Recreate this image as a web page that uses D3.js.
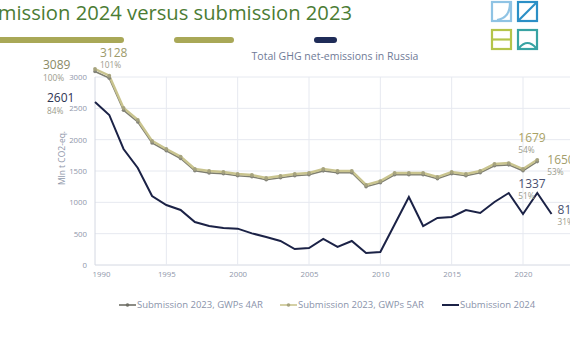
<!DOCTYPE html>
<html>
<head>
<meta charset="utf-8">
<script src="https://cdn.jsdelivr.net/npm/d3@7"></script>
<style>
  body { margin: 0; background: #fff; }
  svg { display: block; font-family: "Open Sans", "Noto Sans", sans-serif; }
</style>
</head>
<body>
<div id="chart"></div>
<script>
// years shown on the chart
var years = d3.range(1990, 2023);

// Submission 2024 (1990-2022)
var sub2024 = [2601, 2394, 1851, 1548, 1101, 957, 878, 686, 622, 590,
  580, 505, 447, 383, 255, 271, 415, 290, 383, 191,
  207, 646, 1085, 622, 750, 766, 878, 830, 1005, 1149,
  814, 1149, 814];

// Submission 2023, GWPs 5AR (1990-2021)
var sub2023_5ar = [3128, 3020, 2505, 2315, 1980, 1852, 1730, 1532, 1500, 1484,
  1452, 1436, 1388, 1420, 1452, 1468, 1532, 1500, 1500, 1277,
  1340, 1468, 1468, 1468, 1404, 1484, 1452, 1500, 1612, 1627,
  1532, 1679];

// Submission 2023, GWPs 4AR (1990-2021)
var sub2023_4ar = [3089, 2982, 2470, 2282, 1948, 1822, 1700, 1505, 1470, 1455,
  1424, 1408, 1360, 1392, 1424, 1440, 1502, 1472, 1472, 1250,
  1312, 1440, 1440, 1440, 1376, 1456, 1424, 1472, 1583, 1598,
  1504, 1650];

var yTicks = [0, 500, 1000, 1500, 2000, 2500, 3000];
var xTicks = [1990, 1995, 2000, 2005, 2010, 2015, 2020];

var legendNames = ["Submission 2023, GWPs 4AR", "Submission 2023, GWPs 5AR", "Submission 2024"];

// value labels: [series, year, value text, percent text]
var callouts = [
  ["4ar", 1990, "3089", "100%"],
  ["5ar", 1990, "3128", "101%"],
  ["2024", 1990, "2601", "84%"],
  ["5ar", 2021, "1679", "54%"],
  ["4ar", 2021, "1650", "53%"],
  ["2024", 2021, "1337", "51%"],
  ["2024", 2022, "814", "31%"]
];

var W = 570, H = 362;
var svg = d3.select("#chart").append("svg")
  .attr("width", W)
  .attr("height", H);

// slide title (cut off on the left like the slide)
svg.append("text")
  .attr("x", 352).attr("y", 20)
  .attr("text-anchor", "end")
  .attr("fill", "#4b7c34")
  .style("font-size", "20.2px")
  .text("Submission 2024 versus submission 2023");

// decorative bars under the title
svg.append("rect").attr("x", -10).attr("y", 37).attr("width", 134).attr("height", 6).attr("rx", 3).attr("fill", "#a9a857");
svg.append("rect").attr("x", 174).attr("y", 37).attr("width", 60).attr("height", 6).attr("rx", 3).attr("fill", "#a9a857");
svg.append("rect").attr("x", 314).attr("y", 37).attr("width", 23).attr("height", 6).attr("rx", 3).attr("fill", "#1f2c58");

// logo
var logo = svg.append("g").attr("fill", "none").attr("stroke-width", 2.2);
logo.append("rect").attr("x", 492).attr("y", 2).attr("width", 19).attr("height", 19).attr("stroke", "#8fc3e4");
logo.append("path").attr("d", "M497,20 Q510,18 510,3").attr("stroke", "#8fc3e4");
logo.append("rect").attr("x", 518).attr("y", 2).attr("width", 19).attr("height", 19).attr("stroke", "#2b8fc6");
logo.append("path").attr("d", "M519,20 L536,3").attr("stroke", "#2b8fc6");
logo.append("rect").attr("x", 492).attr("y", 30).attr("width", 19).attr("height", 19).attr("stroke", "#b4c44a");
logo.append("path").attr("d", "M492,39.5 L511,39.5").attr("stroke", "#b4c44a");
logo.append("rect").attr("x", 518).attr("y", 30).attr("width", 19).attr("height", 19).attr("stroke", "#38a3a3");
logo.append("path").attr("d", "M519,48 Q527.5,38 536,48").attr("stroke", "#38a3a3");

// chart title
svg.append("text")
  .attr("x", 335).attr("y", 60)
  .attr("text-anchor", "middle")
  .attr("fill", "#6f7b97")
  .style("font-size", "10.5px")
  .text("Total GHG net-emissions in Russia");

var x = d3.scaleLinear().domain([1990, 2020]).range([95, 523]);
var y = d3.scaleLinear().domain([0, 3000]).range([265, 77]);

// grid
svg.append("g").selectAll("line").data(yTicks).join("line")
  .attr("x1", x(1990)).attr("x2", W)
  .attr("y1", function(d) { return y(d); }).attr("y2", function(d) { return y(d); })
  .attr("stroke", function(d) { return d === 0 ? "#d4d8e2" : "#e6e9f0"; })
  .attr("stroke-width", 1);
svg.append("g").selectAll("line").data(xTicks).join("line")
  .attr("x1", function(d) { return x(d); }).attr("x2", function(d) { return x(d); })
  .attr("y1", y(0)).attr("y2", y(3000))
  .attr("stroke", function(d) { return d === 1990 ? "#d4d8e2" : "#e6e9f0"; })
  .attr("stroke-width", 1);

// axes
var yAxis = svg.append("g")
  .attr("transform", "translate(" + x(1990) + ",0)")
  .call(d3.axisLeft(y).tickValues(yTicks).tickFormat(d3.format("d")).tickSize(0).tickPadding(8));
var xAxis = svg.append("g")
  .attr("transform", "translate(0," + y(0) + ")")
  .call(d3.axisBottom(x).tickValues(xTicks).tickFormat(d3.format("d")).tickSize(0).tickPadding(6));
[yAxis, xAxis].forEach(function(a) {
  a.select(".domain").remove();
  a.selectAll("text").attr("fill", "#8f97aa").style("font-size", "7.8px")
    .style("font-family", "'Open Sans', sans-serif");
});
xAxis.selectAll("text").filter(function(d) { return d === 1990; }).attr("dx", 6);

svg.append("text")
  .attr("transform", "translate(65,158) rotate(-90)")
  .attr("text-anchor", "middle")
  .attr("fill", "#8f97aa")
  .style("font-size", "8.5px")
  .text("Mln t CO2-eq.");

var line = d3.line()
  .x(function(d) { return x(d[0]); })
  .y(function(d) { return y(d[1]); });

function pairs(vals) {
  return vals.map(function(v, i) { return [years[i], v]; });
}

// Submission 2023 4AR
svg.append("path").datum(pairs(sub2023_4ar))
  .attr("d", line).attr("fill", "none")
  .attr("stroke", "#7e7e70").attr("stroke-width", 1.6);
// Submission 2023 5AR
svg.append("path").datum(pairs(sub2023_5ar))
  .attr("d", line).attr("fill", "none")
  .attr("stroke", "#c9c48f").attr("stroke-width", 2.4);
svg.append("g").selectAll("circle").data(pairs(sub2023_4ar)).join("circle")
  .attr("cx", function(d) { return x(d[0]); }).attr("cy", function(d) { return y(d[1]); })
  .attr("r", 1.8).attr("fill", "#85857a");
svg.append("g").selectAll("circle").data(pairs(sub2023_5ar)).join("circle")
  .attr("cx", function(d) { return x(d[0]); }).attr("cy", function(d) { return y(d[1]); })
  .attr("r", 1.9).attr("fill", "#a6a37e");

// Submission 2024
svg.append("path").datum(pairs(sub2024))
  .attr("d", line).attr("fill", "none")
  .attr("stroke", "#1b2246").attr("stroke-width", 2);

// value call-outs
var seriesMap = { "4ar": sub2023_4ar, "5ar": sub2023_5ar, "2024": sub2024 };
var calloutPos = {
  "4ar1990": [-52, -2, "#8a8a66"],
  "5ar1990": [5, -12, "#9d9a6a"],
  "20241990": [-48, 0, "#2c3452"],
  "5ar2021": [-19, -18, "#a9a265"],
  "4ar2021": [10, 2, "#a39e6c"],
  "20242021": [-19, -5, "#485070"],
  "20242022": [6, 0, "#4a5270"]
};
callouts.forEach(function(c) {
  var vals = seriesMap[c[0]];
  var v = vals[years.indexOf(c[1])];
  var p = calloutPos[c[0] + c[1]];
  var gx = x(c[1]) + p[0], gy = y(v) + p[1];
  svg.append("text").attr("x", gx).attr("y", gy)
    .attr("fill", p[2]).style("font-size", "12px").text(c[2]);
  svg.append("text").attr("x", gx).attr("y", gy + 11.5)
    .attr("fill", "#9b9b8c").style("font-size", "8.3px").text(c[3]);
});

// legend
var legendColors = ["#6f6f66", "#c9c48f", "#1b2246"];
var legendX = [119, 280, 442];
var lg = svg.append("g");
legendNames.forEach(function(name, i) {
  var g = lg.append("g").attr("transform", "translate(" + legendX[i] + ",305)");
  g.append("line").attr("x1", 0).attr("x2", 17).attr("y1", 0).attr("y2", 0)
    .attr("stroke", legendColors[i]).attr("stroke-width", i === 2 ? 2 : 1.6);
  if (i < 2) {
    g.append("circle").attr("cx", 8.5).attr("cy", 0).attr("r", 1.8)
      .attr("fill", i === 0 ? "#6f6f66" : "#a6a37e");
  }
  g.append("text").attr("x", 18).attr("y", 3.3)
    .attr("fill", "#8a93aa").style("font-size", "9.5px").text(name);
});
</script>
</body>
</html>
